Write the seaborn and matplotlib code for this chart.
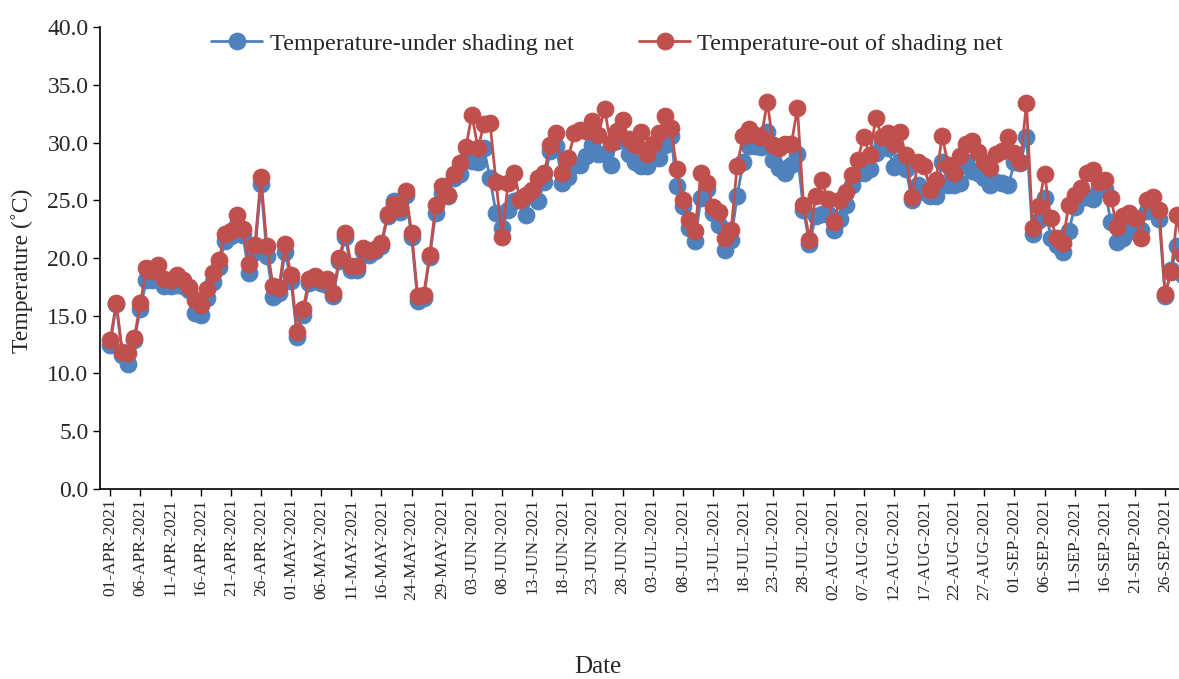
import numpy as np
import pandas as pd
import matplotlib
matplotlib.use("Agg")
import matplotlib.pyplot as plt
import seaborn as sns

# Fechas (faltan 17-19 de mayo en el registro)
dates = pd.date_range("2021-04-01", "2021-09-29")
dates = dates.drop(pd.date_range("2021-05-17", "2021-05-19"))

# Temperatura bajo la malla de sombreo
temp_under = [
    12.5, 16.0, 11.6, 10.8, 12.9, 15.6, 18.1, 18.1, 18.3, 17.6, 17.6, 17.7, 17.6, 17.2, 15.2,
    15.1, 16.5, 17.9, 19.2, 21.5, 21.9, 22.9, 22.0, 18.7, 20.5, 26.4, 20.2, 16.6, 17.0, 20.5,
    18.0, 13.2, 15.1, 17.8, 18.0, 17.8, 17.7, 16.7, 19.7, 21.8, 19.0, 19.0, 20.6, 20.3, 20.6,
    21.0, 23.6, 24.9, 24.0, 25.5, 21.8, 16.3, 16.5, 20.1, 23.9, 25.6, 25.4, 26.9, 27.3, 28.5,
    28.4, 28.3, 29.5, 26.9, 23.9, 22.6, 24.2, 24.9, 25.1, 23.7, 25.8, 24.9, 26.6, 29.3, 29.7,
    26.5, 27.0, 28.1, 28.1, 28.8, 29.8, 29.0, 29.0, 28.1, 30.1, 30.3, 29.0, 28.3, 28.0, 28.0,
    28.7, 28.7, 29.8, 30.6, 26.2, 24.5, 22.6, 21.5, 25.2, 26.0, 23.9, 22.9, 20.7, 21.6, 25.4,
    28.3, 29.7, 29.7, 29.6, 30.9, 28.5, 27.8, 27.4, 28.1, 29.0, 24.2, 21.2, 23.6, 23.8, 23.8,
    22.4, 23.4, 24.6, 26.3, 27.4, 27.4, 27.7, 29.1, 30.0, 29.5, 27.9, 28.4, 27.7, 25.0, 26.3,
    25.7, 25.4, 25.4, 28.3, 26.3, 26.3, 26.5, 28.3, 27.5, 27.4, 26.9, 26.3, 26.6, 26.5, 26.3,
    28.3, 28.2, 30.5, 22.1, 23.3, 25.2, 21.7, 21.1, 20.5, 22.3, 24.4, 25.2, 25.3, 25.1, 26.0,
    26.0, 23.1, 21.4, 21.7, 22.3, 23.0, 22.4, 24.1, 24.4, 23.4, 16.7, 19.0, 21.0, 18.5,
]

# Temperatura fuera de la malla de sombreo
temp_out = [
    12.9, 16.1, 11.9, 11.8, 13.1, 16.1, 19.1, 18.9, 19.4, 18.2, 18.1, 18.5, 18.1, 17.5, 16.4,
    15.9, 17.3, 18.7, 19.8, 22.1, 22.3, 23.7, 22.5, 19.5, 21.1, 27.0, 21.0, 17.6, 17.4, 21.2,
    18.5, 13.6, 15.6, 18.2, 18.4, 18.1, 18.2, 17.0, 20.0, 22.2, 19.3, 19.3, 20.9, 20.6, 20.8,
    21.3, 23.8, 24.7, 24.3, 25.8, 22.2, 16.7, 16.8, 20.3, 24.6, 26.2, 25.5, 27.3, 28.2, 29.6,
    32.4, 29.5, 31.6, 31.7, 26.6, 21.8, 26.5, 27.4, 25.0, 25.5, 25.9, 26.9, 27.4, 29.8, 30.8,
    27.4, 28.7, 30.8, 31.1, 31.0, 31.9, 30.7, 32.9, 30.0, 31.0, 32.0, 30.3, 29.8, 30.9, 29.0,
    29.9, 30.8, 32.3, 31.3, 27.7, 25.0, 23.3, 22.3, 27.4, 26.5, 24.4, 24.0, 21.7, 22.4, 28.0,
    30.6, 31.2, 30.7, 30.5, 33.5, 29.8, 29.5, 29.9, 29.9, 33.0, 24.6, 21.6, 25.4, 26.8, 25.1,
    23.1, 25.0, 25.7, 27.2, 28.5, 30.5, 28.9, 32.1, 30.5, 30.8, 29.9, 30.9, 28.9, 25.3, 28.3,
    28.0, 25.9, 26.8, 30.6, 28.1, 27.4, 28.8, 29.9, 30.1, 29.2, 28.3, 27.8, 29.0, 29.3, 30.5,
    29.1, 28.3, 33.4, 22.6, 24.5, 27.3, 23.5, 21.7, 21.3, 24.6, 25.5, 26.1, 27.4, 27.6, 26.6,
    26.8, 25.2, 22.7, 23.6, 23.9, 23.5, 21.7, 25.0, 25.3, 24.2, 16.9, 18.8, 23.7, 20.3,
]

labels = ["Temperature-under shading net", "Temperature-out of shading net"]
colors = ["#4F81BD", "#C0504D"]

sns.set_style("ticks")
plt.rcParams["font.family"] = ["Liberation Serif", "DejaVu Serif"]

x = np.arange(len(dates))
fig, ax = plt.subplots(figsize=(11.79, 6.79), dpi=100)
fig.subplots_adjust(left=0.085, right=1.0, bottom=0.28, top=0.96)

for serie, lab, col in zip([temp_under, temp_out], labels, colors):
    sns.lineplot(x=x, y=serie, ax=ax, color=col, label=lab, marker="o",
                 markersize=12, markeredgecolor=col, markeredgewidth=0.8,
                 linewidth=2)

ax.set_xlim(-1.66, 177.3)
ax.set_ylim(0, 40)
ax.set_yticks(np.arange(0, 40.1, 5))
ax.set_yticklabels([f"{v:.1f}" for v in np.arange(0, 40.1, 5)], fontsize=17)
ticks = x[::5]
ax.set_xticks(ticks)
ax.set_xticklabels([d.strftime("%d-%b-%Y").upper() for d in dates[::5]],
                   rotation=90, fontsize=12.5)
ax.tick_params(axis="both", direction="out", length=5, width=1, color="black")
ax.tick_params(axis="x", pad=2)
for s in ["left", "bottom"]:
    ax.spines[s].set_color("black")
    ax.spines[s].set_linewidth(1.2)
sns.despine(ax=ax)

ax.set_xlabel("Date", fontsize=18)
ax.set_ylabel("Temperature (˚C)", fontsize=17)
ax.xaxis.set_label_coords(0.4615, -0.362)
ax.yaxis.set_label_coords(-0.062, 0.472)

ax.legend(loc="upper center", bbox_to_anchor=(0.47, 1.035), ncol=2, frameon=False,
          fontsize=17.5, handlelength=2.1, handletextpad=0.3, columnspacing=2.7)

plt.savefig("out.png", dpi=100)
